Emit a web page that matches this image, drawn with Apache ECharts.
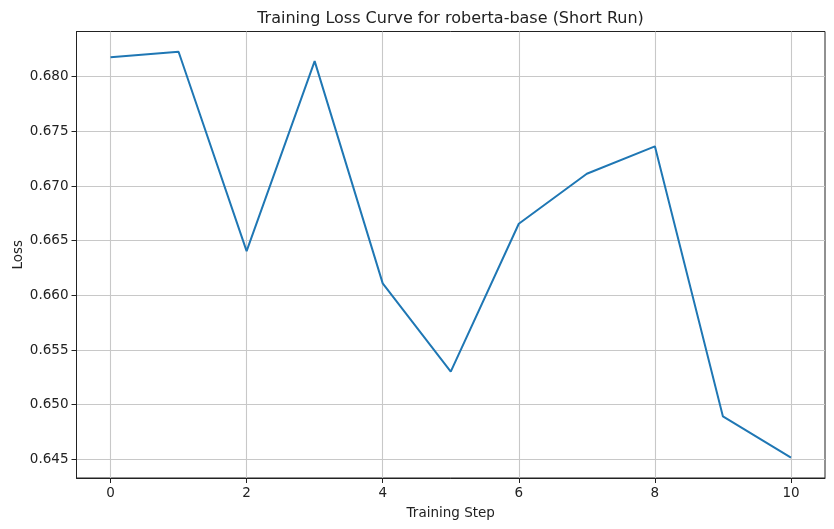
<!DOCTYPE html>
<html>
<head>
<meta charset="utf-8">
<script src="https://cdn.jsdelivr.net/npm/echarts@6/dist/echarts.min.js"></script>
<style>
html,body{margin:0;padding:0;background:#fff;}
#chart{width:834px;height:529px;}
</style>
</head>
<body>
<div id="chart"></div>
<script>
const steps = [0, 1, 2, 3, 4, 5, 6, 7, 8, 9, 10];
const lossValues = [0.68177, 0.68228, 0.66405, 0.68143, 0.6611, 0.65302, 0.66655, 0.67112, 0.67363, 0.64893, 0.64515];
const xTicks = [0, 2, 4, 6, 8, 10];
const yTicks = [0.645, 0.650, 0.655, 0.660, 0.665, 0.670, 0.675, 0.680];

const font = 'DejaVu Sans';
const yMinD = Math.min(...lossValues), yMaxD = Math.max(...lossValues);
const yPad = (yMaxD - yMinD) * 0.05;
const xPad = (steps[steps.length - 1] - steps[0]) * 0.05;

const tickText = {fontFamily: font, fontSize: 13.5, color: '#222'};

const chart = echarts.init(document.getElementById('chart'), null, {renderer: 'canvas'});
chart.setOption({
  animation: false,
  backgroundColor: '#fff',
  textStyle: {fontFamily: font},
  title: {
    text: 'Training Loss Curve for roberta-base (Short Run)',
    left: 445.5, textAlign: 'center', top: 6,
    textStyle: {fontFamily: font, fontSize: 16, fontWeight: 'normal', color: '#222'}
  },
  grid: {left: 76.5, right: 9, top: 31.5, bottom: 51, outerBoundsMode: 'none', containLabel: false,
    show: true, borderColor: '#222', borderWidth: 1, backgroundColor: 'transparent'},
  xAxis: {
    type: 'value',
    min: steps[0] - xPad, max: steps[steps.length - 1] + xPad,
    name: 'Training Step', nameLocation: 'middle', nameGap: 28, nameMoveOverlap: false,
    nameTextStyle: {fontFamily: font, fontSize: 13.5, color: '#222'},
    axisLine: {show: true, onZero: false, lineStyle: {color: '#222', width: 1}},
    axisTick: {show: true, length: 5, customValues: xTicks, lineStyle: {color: '#222'}},
    axisLabel: Object.assign({customValues: xTicks, margin: 8}, tickText),
    splitLine: {show: true, lineStyle: {color: '#c8c8c8', width: 1.1}}
  },
  yAxis: {
    type: 'value',
    min: yMinD - yPad, max: yMaxD + yPad,
    name: 'Loss', nameLocation: 'middle', nameGap: 51, nameMoveOverlap: false,
    nameTextStyle: {fontFamily: font, fontSize: 13.5, color: '#222'},
    axisLine: {show: true, onZero: false, lineStyle: {color: '#222', width: 1}},
    axisTick: {show: true, length: 5, customValues: yTicks, lineStyle: {color: '#222'}},
    axisLabel: Object.assign({customValues: yTicks, margin: 8, formatter: v => v.toFixed(3)}, tickText),
    splitLine: {show: true, lineStyle: {color: '#c8c8c8', width: 1.1}}
  },
  series: [{
    type: 'line',
    data: steps.map((s, i) => [s, lossValues[i]]),
    showSymbol: false,
    lineStyle: {color: '#1f77b4', width: 2},
    itemStyle: {color: '#1f77b4'},
    z: 5
  }]
});
</script>
</body>
</html>
